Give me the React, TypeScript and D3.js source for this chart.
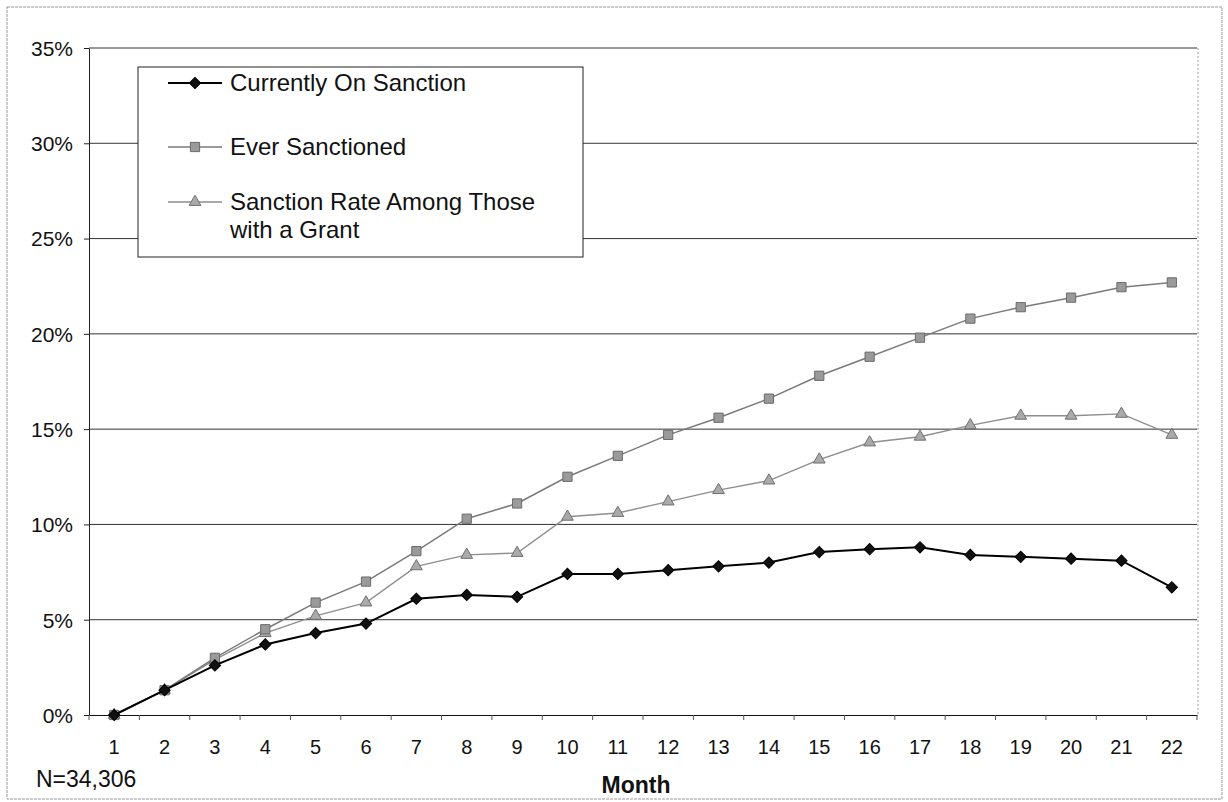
import { useEffect, useRef } from "react";
import * as d3 from "d3";

const months = ["1", "2", "3", "4", "5", "6", "7", "8", "9", "10", "11", "12", "13", "14", "15", "16", "17", "18", "19", "20", "21", "22"];
const currentlyOnSanction = [0, 1.3, 2.6, 3.7, 4.3, 4.8, 6.1, 6.3, 6.2, 7.4, 7.4, 7.6, 7.8, 8.0, 8.55, 8.7, 8.8, 8.4, 8.3, 8.2, 8.1, 6.7];
const everSanctioned = [0, 1.3, 3.0, 4.5, 5.9, 7.0, 8.6, 10.3, 11.1, 12.5, 13.6, 14.7, 15.6, 16.6, 17.8, 18.8, 19.8, 20.8, 21.4, 21.9, 22.45, 22.7];
const grantRate = [0, 1.3, 2.9, 4.3, 5.2, 5.9, 7.8, 8.4, 8.5, 10.4, 10.6, 11.2, 11.8, 12.3, 13.4, 14.3, 14.6, 15.2, 15.7, 15.7, 15.8, 14.7];
const yTicks = [0, 5, 10, 15, 20, 25, 30, 35];

export default function App() {
    const svgRef = useRef<SVGSVGElement>(null);

    useEffect(() => {
        if (!svgRef.current) return;
        const svg = d3.select(svgRef.current);
        svg.selectAll("*").remove();

        const W = 1228, H = 802;
        const left = 89, right = 1197, top = 48, bottom = 715;
        const font = "Arial, 'Liberation Sans', sans-serif";

        svg.attr("width", W).attr("height", H);

        // page frame
        svg.append("rect")
            .attr("x", 7).attr("y", 7).attr("width", 1215).attr("height", 792)
            .attr("fill", "#fff").attr("stroke", "#999").attr("stroke-width", 1)
            .attr("stroke-dasharray", "3,1");

        const x = d3.scaleBand().domain(months).range([left, right]).paddingInner(0);
        const y = d3.scaleLinear().domain([0, 35]).range([bottom, top]);
        const cx = (i: number) => x(months[i])! + x.bandwidth() / 2;

        // gridlines
        svg.append("g")
            .selectAll("line")
            .data(yTicks.filter(t => t > 0))
            .join("line")
            .attr("x1", left).attr("x2", right)
            .attr("y1", d => y(d)).attr("y2", d => y(d))
            .attr("stroke", "#333").attr("stroke-width", 1);

        // plot right border
        svg.append("line")
            .attr("x1", right + 1).attr("x2", right + 1).attr("y1", top).attr("y2", bottom)
            .attr("stroke", "#999").attr("stroke-dasharray", "2,2");

        // y axis
        const yAxis = svg.append("g")
            .attr("transform", `translate(${left},0)`)
            .call(d3.axisLeft(y).tickValues(yTicks).tickSize(5).tickSizeOuter(0).tickFormat(d => `${d}%`));
        yAxis.select(".domain").attr("stroke", "#222");
        yAxis.selectAll(".tick line").attr("stroke", "#222");
        yAxis.selectAll("text")
            .attr("font-family", font).attr("font-size", 21).attr("fill", "#111")
            .attr("x", -16).attr("dy", "0.35em");

        // x axis
        const xAxis = svg.append("g")
            .attr("transform", `translate(0,${bottom})`)
            .call(d3.axisBottom(x).tickSize(0).tickSizeOuter(0));
        xAxis.select(".domain").attr("stroke", "#111");
        xAxis.selectAll("text")
            .attr("font-family", font).attr("font-size", 20).attr("fill", "#111")
            .attr("y", 25).attr("dy", "0.71em");
        svg.append("g")
            .selectAll("line")
            .data(months.map(m => x(m)!).concat([right]))
            .join("line")
            .attr("x1", d => d).attr("x2", d => d)
            .attr("y1", bottom).attr("y2", bottom + 5)
            .attr("stroke", "#555");

        // series
        const series = [
            { name: "Currently On Sanction", values: currentlyOnSanction, line: "#000", width: 2, symbol: d3.symbolSquare, rotate: 45, size: 64, fill: "#111", stroke: "#000" },
            { name: "Ever Sanctioned", values: everSanctioned, line: "#7a7a7a", width: 1.5, symbol: d3.symbolSquare, rotate: 0, size: 85, fill: "#9a9a9a", stroke: "#6a6a6a" },
            { name: "Grant", values: grantRate, line: "#8e8e8e", width: 1.4, symbol: d3.symbolTriangle, rotate: 0, size: 60, fill: "#aaa", stroke: "#6f6f6f" },
        ];

        const line = d3.line<number>().x((_, i) => cx(i)).y(d => y(d));

        [...series].reverse().forEach(s => {
            svg.append("path")
                .datum(s.values)
                .attr("fill", "none")
                .attr("stroke", s.line)
                .attr("stroke-width", s.width)
                .attr("d", line);
            svg.append("g")
                .selectAll("path")
                .data(s.values)
                .join("path")
                .attr("transform", (d, i) => `translate(${cx(i)},${y(d)}) rotate(${s.rotate})`)
                .attr("d", d3.symbol().type(s.symbol).size(s.size)())
                .attr("fill", s.fill)
                .attr("stroke", s.stroke)
                .attr("stroke-width", 1);
        });

        // legend
        const lg = svg.append("g");
        lg.append("rect")
            .attr("x", 138).attr("y", 67).attr("width", 445).attr("height", 190)
            .attr("fill", "#fff").attr("stroke", "#222").attr("stroke-width", 1);
        const rows = [
            { s: series[0], y: 83, lines: ["Currently On Sanction"] },
            { s: series[1], y: 147, lines: ["Ever Sanctioned"] },
            { s: series[2], y: 202, lines: ["Sanction Rate Among Those", "with a Grant"] },
        ];
        rows.forEach(r => {
            lg.append("line")
                .attr("x1", 168).attr("x2", 222).attr("y1", r.y).attr("y2", r.y)
                .attr("stroke", r.s.line).attr("stroke-width", r.s.width);
            lg.append("path")
                .attr("transform", `translate(195,${r.y}) rotate(${r.s.rotate})`)
                .attr("d", d3.symbol().type(r.s.symbol).size(r.s.size)())
                .attr("fill", r.s.fill).attr("stroke", r.s.stroke);
            r.lines.forEach((t, k) => {
                lg.append("text")
                    .attr("x", 230).attr("y", r.y + k * 28).attr("dy", "0.35em")
                    .attr("font-family", font).attr("font-size", 24).attr("fill", "#111")
                    .text(t);
            });
        });

        // footer texts
        svg.append("text")
            .attr("x", 36).attr("y", 787)
            .attr("font-family", font).attr("font-size", 23).attr("fill", "#111")
            .text("N=34,306");
        svg.append("text")
            .attr("x", 636).attr("y", 793).attr("text-anchor", "middle")
            .attr("font-family", font).attr("font-size", 23).attr("font-weight", "bold").attr("fill", "#111")
            .text("Month");
    }, []);

    return (
        <div style={{ position: "absolute", left: 0, top: 0 }}>
            <svg ref={svgRef} style={{ display: "block" }}></svg>
        </div>
    );
}
